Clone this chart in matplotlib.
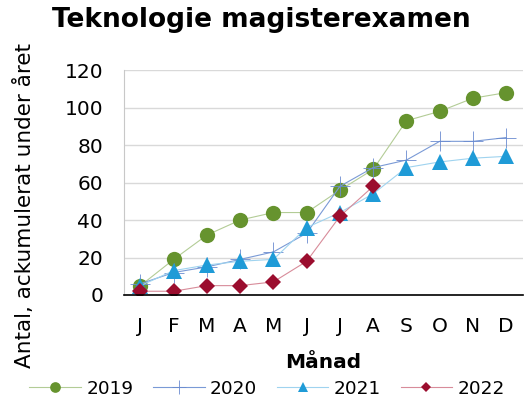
import matplotlib.pyplot as plt

months = ["J", "F", "M", "A", "M", "J", "J", "A", "S", "O", "N", "D"]
y2019 = [5, 19, 32, 40, 44, 44, 56, 67, 93, 98, 105, 108]
y2020 = [6, 12, 15, 19, 23, 33, 58, 68, 72, 82, 82, 84]
y2021 = [5, 13, 16, 18, 19, 36, 44, 54, 68, 71, 73, 74]
y2022 = [2, 2, 5, 5, 7, 18, 42, 58]

plt.rcParams['font.family'] = ['DejaVu Sans']

fig = plt.figure(figsize=(5.27, 4.03), dpi=100)
ax = fig.add_axes([0.235, 0.268, 0.757, 0.558])

x = range(len(months))
ax.plot(x, y2019, color='#b3cc96', marker='o', markersize=11, linewidth=0.8,
        label='2019', markeredgewidth=0, markerfacecolor='#66932e')
ax.plot(x, y2020, color='#7a9ad6', marker='+', markersize=14, linewidth=0.8,
        label='2020', markeredgewidth=0.6, markeredgecolor='#6a8bd0')
ax.plot(x, y2021, color='#9fd3ef', marker='^', markersize=11, linewidth=0.8,
        label='2021', markeredgewidth=0, markerfacecolor='#1f9bd7')
ax.plot(range(len(y2022)), y2022, color='#d88c9a', marker='D', markersize=8,
        linewidth=0.8, label='2022', markeredgewidth=0, markerfacecolor='#9b0d2e')

ax.set_xlim(-0.5, 11.5)
ax.set_ylim(0, 120)
ax.set_yticks(range(0, 121, 20))
ax.set_xticks(list(x))
ax.set_xticklabels(months)
ax.tick_params(labelsize=14.5, length=0)
ax.tick_params(axis='x', pad=16)
ax.tick_params(axis='y', pad=15)
ax.yaxis.grid(True, color='#d9d9d9', linewidth=1)
ax.set_axisbelow(True)
for s in ['top', 'right']:
    ax.spines[s].set_visible(False)
ax.spines['left'].set_color('#c8c8c8')
ax.spines['bottom'].set_color('black')
ax.spines['bottom'].set_linewidth(1.2)

ax.set_xlabel('Månad', fontsize=14.5, fontweight='bold', labelpad=12)
fig.text(0.047, 0.489, 'Antal, ackumulerat under året', fontsize=15.5,
         rotation=90, ha='center', va='center')
fig.text(0.496, 0.95, 'Teknologie magisterexamen', fontsize=19, fontweight='bold',
         ha='center', va='center')

fig.legend(loc='center', bbox_to_anchor=(0.507, 0.035), ncol=4, frameon=False,
           fontsize=13.3, handlelength=2.8, columnspacing=1.05, handletextpad=0.3,
           markerscale=0.7)

fig.savefig('out.png', dpi=100)
